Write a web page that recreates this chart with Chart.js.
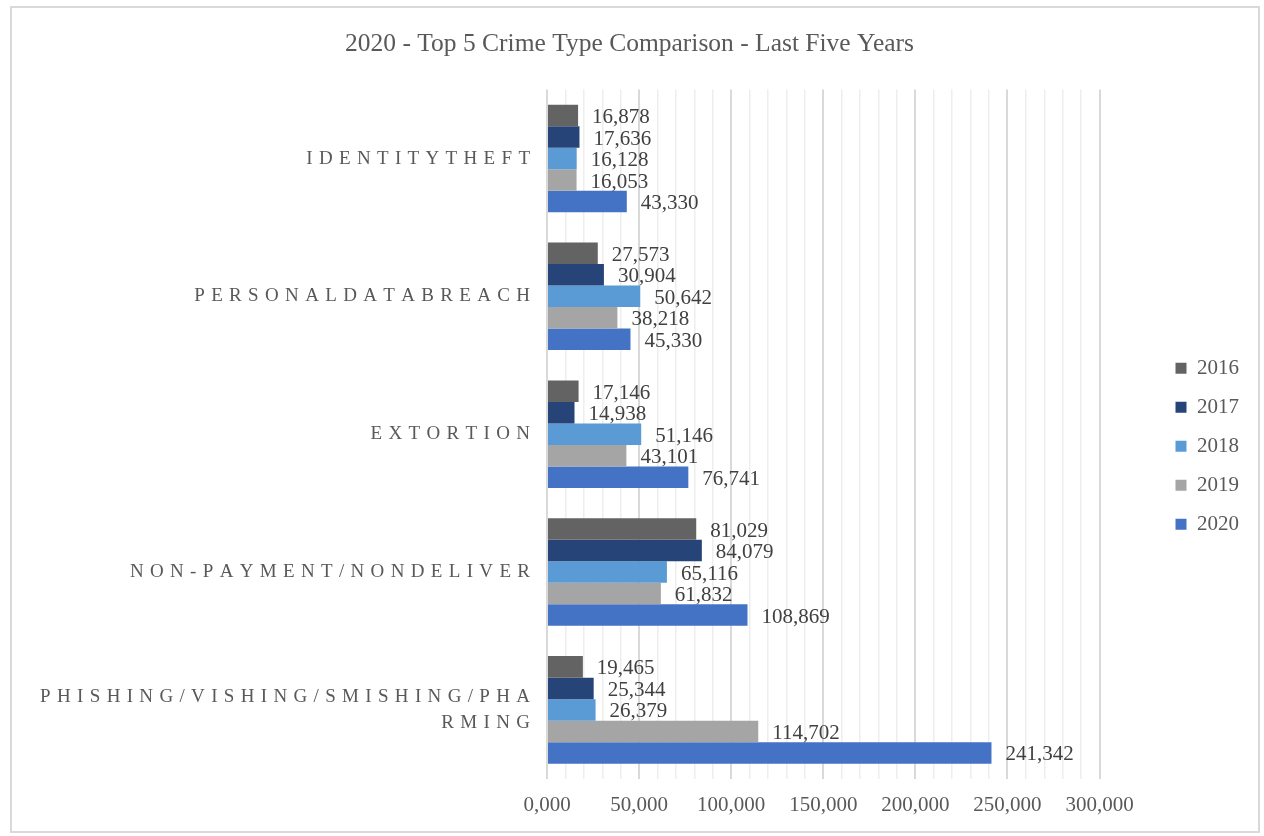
<!DOCTYPE html>
<html>
<head>
<meta charset="utf-8">
<title>2020 - Top 5 Crime Type Comparison - Last Five Years</title>
<script src="https://cdn.jsdelivr.net/npm/chart.js@4.4.1/dist/chart.umd.min.js"></script>
<style>
  html, body { margin: 0; padding: 0; background: #ffffff; }
  #wrap { position: absolute; left: 0; top: 0; width: 1264px; height: 836px; }
  #frame {
    position: absolute; left: 10px; top: 6px; width: 1250px; height: 827px;
    border: 2px solid #d9d9d9; box-sizing: border-box; pointer-events: none;
  }
</style>
</head>
<body>
<div id="wrap"><canvas id="chart" width="1264" height="836"></canvas></div>
<div id="frame"></div>
<script>
// Crime types, top to bottom
const categories = [
  'IDENTITYTHEFT',
  'PERSONALDATABREACH',
  'EXTORTION',
  'NON-PAYMENT/NONDELIVER',
  'PHISHING/VISHING/SMISHING/PHARMING'
];

// Reporting years (one series each)
const years = ['2016', '2017', '2018', '2019', '2020'];

// Complaint counts per crime type, one array per year
const values2016 = [16878, 27573, 17146, 81029, 19465];
const values2017 = [17636, 30904, 14938, 84079, 25344];
const values2018 = [16128, 50642, 51146, 65116, 26379];
const values2019 = [16053, 38218, 43101, 61832, 114702];
const values2020 = [43330, 45330, 76741, 108869, 241342];

// Value axis range and tick steps
const axisMin = 0;
const axisMax = 300000;
const majorStep = 50000;
const minorStep = 10000;

const seriesValues = [values2016, values2017, values2018, values2019, values2020];
const seriesColors = ['#636363', '#264478', '#5b9bd5', '#a5a5a5', '#4472c4'];

const SERIF = '"Liberation Serif", "Times New Roman", serif';

// Thousands separators, e.g. 108869 -> "108,869"
function withCommas(v) {
  return Math.round(v).toString().replace(/\B(?=(\d{3})+(?!\d))/g, ',');
}

// Axis number format "0,000": at least four digits, grouped
function axisFormat(v) {
  const s = Math.round(v).toString().padStart(4, '0');
  return s.replace(/\B(?=(\d{3})+(?!\d))/g, ',');
}

// Wide letter-spaced category captions, wrapped every 29 characters
function spacedLabel(text) {
  const lines = [];
  for (let i = 0; i < text.length; i += 29) {
    lines.push(text.slice(i, i + 29).split('').join('\u2004'));
  }
  return lines.length === 1 ? lines[0] : lines;
}

// Value captions at the end of each bar
const valueLabels = {
  id: 'valueLabels',
  afterDatasetsDraw(chart) {
    const ctx = chart.ctx;
    ctx.save();
    ctx.font = '21px ' + SERIF;
    ctx.fillStyle = '#404040';
    ctx.textAlign = 'left';
    ctx.textBaseline = 'middle';
    chart.data.datasets.forEach((ds, i) => {
      const meta = chart.getDatasetMeta(i);
      if (meta.hidden) return;
      meta.data.forEach((bar, j) => {
        ctx.fillText(withCommas(ds.data[j]), bar.x + 14, bar.y + 2);
      });
    });
    ctx.restore();
  }
};

const datasets = years.map((year, i) => ({
  label: year,
  data: seriesValues[i],
  backgroundColor: seriesColors[i],
  borderWidth: 0,
  categoryPercentage: 0.78,
  barPercentage: 1.0
}));

new Chart(document.getElementById('chart'), {
  type: 'bar',
  data: { labels: categories, datasets: datasets },
  plugins: [valueLabels],
  options: {
    indexAxis: 'y',
    responsive: false,
    animation: false,
    events: [],
    layout: { padding: { left: 10, right: 15, top: 10, bottom: 4 } },
    plugins: {
      title: {
        display: true,
        text: '2020 - Top 5 Crime Type Comparison - Last Five Years',
        color: '#595959',
        font: { family: SERIF, size: 25.5, weight: 'normal', lineHeight: 1.2 },
        padding: { top: 19, bottom: 30 }
      },
      legend: {
        display: true,
        position: 'right',
        align: 'center',
        fullSize: false,
        title: { display: true, text: '', font: { size: 10 }, padding: 6 },
        labels: {
          boxWidth: 11,
          boxHeight: 11,
          padding: 18,
          color: '#595959',
          font: { family: SERIF, size: 21 }
        }
      },
      tooltip: { enabled: false }
    },
    scales: {
      x: {
        type: 'linear',
        min: axisMin,
        max: axisMax,
        border: { display: false },
        grid: {
          drawTicks: false,
          color: (c) => (c.tick && c.tick.value % majorStep === 0) ? '#d9d9d9' : '#eeeeee',
          lineWidth: (c) => (c.tick && c.tick.value % majorStep === 0) ? 2 : 1.5
        },
        ticks: {
          stepSize: minorStep,
          autoSkip: false,
          maxRotation: 0,
          padding: 14,
          color: '#595959',
          font: { family: SERIF, size: 21 },
          callback: (value) => (value % majorStep === 0 ? axisFormat(value) : '')
        }
      },
      y: {
        type: 'category',
        border: { display: false },
        grid: { display: false, drawTicks: false },
        ticks: {
          padding: 17,
          color: '#595959',
          font: { family: SERIF, size: 19, lineHeight: 1.35 },
          callback: (value, index) => spacedLabel(categories[index])
        },
        afterFit: (scale) => { scale.width = 537; }
      },
      yGap: {
        type: 'category',
        position: 'right',
        border: { display: false },
        grid: { display: false, drawTicks: false },
        ticks: { display: false },
        afterFit: (scale) => { scale.width = 58; }
      }
    }
  }
});
</script>
</body>
</html>
